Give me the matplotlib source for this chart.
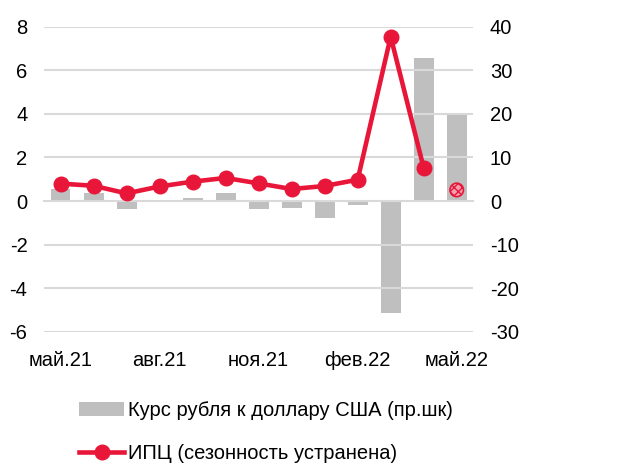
import matplotlib
matplotlib.use('Agg')
import matplotlib.pyplot as plt
import numpy as np
from matplotlib.lines import Line2D
from matplotlib.patches import Patch

months = ['май.21', 'июн.21', 'июл.21', 'авг.21', 'сен.21', 'окт.21', 'ноя.21',
          'дек.21', 'янв.22', 'фев.22', 'мар.22', 'апр.22', 'май.22']
rub_usd = [2.8, 1.8, -1.8, 0.3, 0.8, 1.9, -1.8, -1.5, -3.8, -0.8, -25.7, 32.8, 20.0]
cpi_sa = [0.80, 0.70, 0.35, 0.67, 0.89, 1.06, 0.81, 0.55, 0.69, 0.98, 7.54, 1.52]
cpi_est = 0.51  # май.22, оценка

RED = '#e8173a'
BAR = '#bfbfbf'
GRID = '#d9d9d9'

plt.rcParams['font.family'] = ['Liberation Sans', 'DejaVu Sans']
plt.rcParams['axes.unicode_minus'] = False
plt.rcParams['hatch.linewidth'] = 1.0

fig = plt.figure(figsize=(6.21, 4.68), dpi=100)
ax = fig.add_axes([0.071, 0.291, 0.691, 0.652])
ax2 = ax.twinx()
ax.set_zorder(ax2.get_zorder() + 1)
ax.patch.set_visible(False)

x = np.arange(len(months))

# bars on the right scale
ax2.bar(x, rub_usd, width=0.6, color=BAR, zorder=2)
ax2.set_ylim(-30, 40)
ax2.set_yticks(np.arange(-30, 41, 10))
ax2.tick_params(axis='y', length=0, labelsize=14.5, pad=12)

# CPI line on the left scale
ax.plot(x[:len(cpi_sa)], cpi_sa, color=RED, lw=3.3, marker='o', ms=10.5, zorder=5)
ax.scatter([x[-1]], [cpi_est], s=95, facecolor='#f5a0b0', edgecolor=RED,
           hatch='xxxx', linewidth=1.2, zorder=6)
ax.set_ylim(-6, 8)
ax.set_yticks(np.arange(-6, 9, 2))
ax.tick_params(axis='y', length=0, labelsize=14.5, pad=12)
ax.set_xlim(-0.5, len(months) - 0.5)

# horizontal grid
for yv in np.arange(-6, 9, 2):
    if yv != 0:
        ax.axhline(yv, color=GRID, lw=1.5, zorder=1)

# zero axis with boundary ticks
ax.spines['bottom'].set_position(('data', 0))
ax.spines['bottom'].set_color(GRID)
ax.spines['bottom'].set_linewidth(1.5)
ax.set_xticks(np.arange(-0.5, len(months) - 0.5, 3))
ax.tick_params(axis='x', length=5, width=1.5, color=GRID, labelbottom=False)

for a in (ax, ax2):
    for s in ('top', 'left', 'right'):
        a.spines[s].set_visible(False)
ax2.spines['bottom'].set_visible(False)
ax2.set_xticks([])

# month labels at the bottom
sec = ax.secondary_xaxis('bottom')
sec.spines['bottom'].set_visible(False)
sec.set_xticks(x[::3])
sec.set_xticklabels(months[::3])
sec.tick_params(axis='x', length=0, labelsize=14.5, pad=14)

handles = [Patch(facecolor=BAR, edgecolor='none'),
           Line2D([], [], color=RED, lw=3.3, marker='o', ms=10.5)]
labels = ['Курс рубля к доллару США (пр.шк)', 'ИПЦ (сезонность устранена)']
fig.legend(handles, labels, loc='upper left', bbox_to_anchor=(0.128, 0.143),
           frameon=False, fontsize=14.5, handlelength=2.2, handletextpad=0.2,
           labelspacing=1.2, borderaxespad=0, borderpad=0)

fig.savefig('out.png', dpi=100, facecolor='white')
